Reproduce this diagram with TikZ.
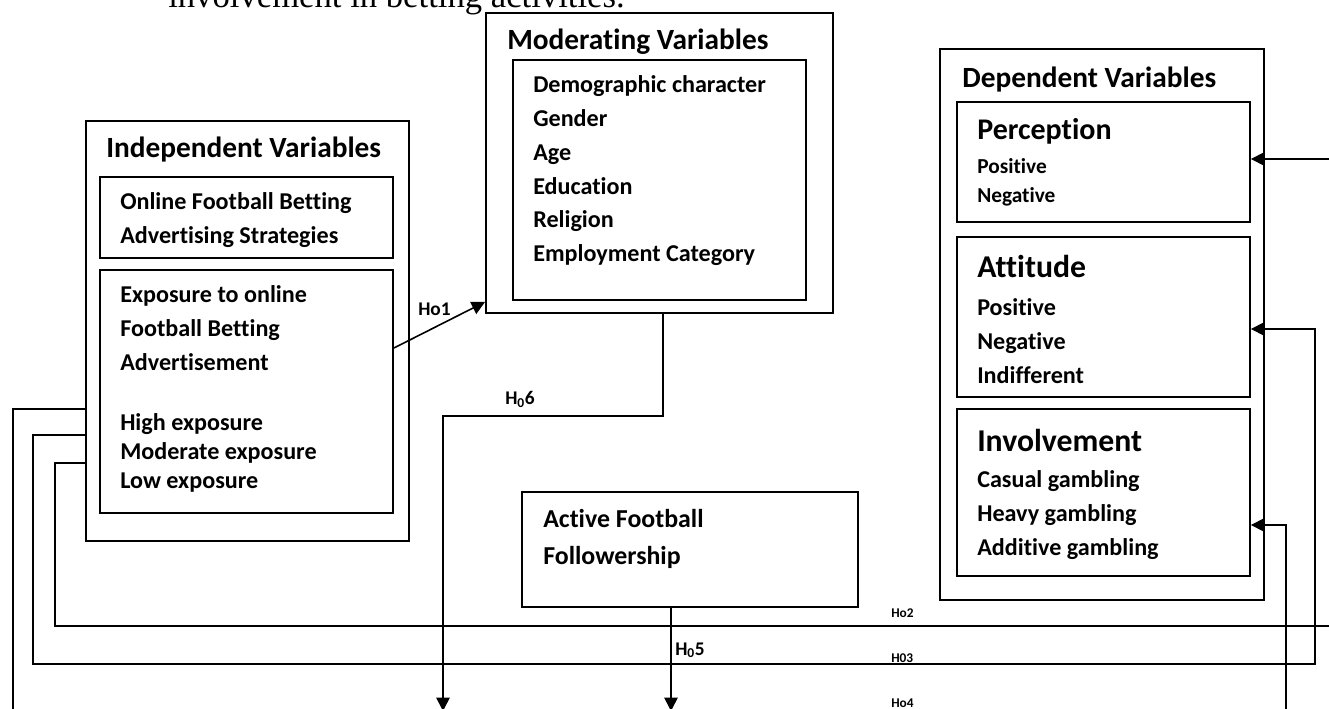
\documentclass[tikz,border=0pt]{standalone}
\usepackage{fontspec}
\setmainfont{Carlito}[Ligatures=NoCommon]
\newfontfamily\serif{Liberation Serif}
\usetikzlibrary{fit,arrows.meta}
\newcommand\lines[1]{\begin{tabular}[t]{@{}l@{}}#1\end{tabular}}
\newcommand\fs[2]{\fontsize{#1}{#2}\selectfont\bfseries}

\begin{document}
\begin{tikzpicture}[
  x=0.75pt, y=-0.75pt,
  box/.style={draw, line width=1.4pt, inner sep=0pt},
  txt/.style={anchor=base west, inner sep=0pt},
  title/.style={txt, font=\fs{22pt}{26pt}},
  head/.style={txt, font=\fs{23.8pt}{28pt}},
  item/.style={txt, font=\fs{18.1pt}{25.3pt}},
  tight/.style={txt, font=\fs{18.1pt}{21.75pt}},
  small/.style={txt, font=\fs{16pt}{21.75pt}},
  hyp/.style={txt, font=\fs{14.5pt}{17pt}},
  tag/.style={txt, font=\fs{10pt}{12pt}},
  link/.style={line width=1.2pt},
  arr/.style={link, -{Triangle[length=10pt,width=10pt]}}
]
\useasboundingbox (0,0) rectangle (1329,709);
\clip (0,0) rectangle (1329,709);

\node[txt, font=\serif\fontsize{26pt}{30pt}\selectfont] (intro) at (168,8) {involvement in betting activities.};

\node[box, fit={(86,121) (409,541)}] (indep) {};
\node[box, fit={(100,177) (393,258)}] (strat) {};
\node[box, fit={(100,270) (393,513)}] (expo) {};
\node[box, fit={(486,13) (833,313)}] (moder) {};
\node[box, fit={(513,60) (806,300)}] (demo) {};
\node[box, fit={(940,49) (1264,600)}] (depend) {};
\node[box, fit={(957,102) (1250,222)}] (percep) {};
\node[box, fit={(957,237) (1250,397)}] (attit) {};
\node[box, fit={(957,409) (1250,576)}] (involv) {};
\node[box, fit={(522,492) (858,607)}] (active) {};

\node[title] (indep-t) at (106,158) {Independent Variables};
\node[item] (strat-t) at (120,210) {\lines{Online Football Betting\\Advertising Strategies}};
\node[item] (expo-t) at (120,303) {\lines{Exposure to online\\Football Betting\\Advertisement}};
\node[tight] (level-t) at (120,431) {\lines{High exposure\\Moderate exposure\\Low exposure}};
\node[title] (moder-t) at (507,50) {Moderating Variables};
\node[item] (demo-t) at (533,93) {\lines{Demographic character\\Gender\\Age\\Education\\Religion\\Employment Category}};
\node[title] (depend-t) at (962,88) {Dependent Variables};
\node[head, font=\fs{22.5pt}{26pt}] (percep-t) at (977,140) {Perception};
\node[small] (percep-i) at (977,174) {\lines{Positive\\Negative}};
\node[head] (attit-t) at (977,278) {Attitude};
\node[item] (attit-i) at (977,316) {\lines{Positive\\Negative\\Indifferent}};
\node[head] (involv-t) at (977,451) {Involvement};
\node[item] (involv-i) at (977,488) {\lines{Casual gambling\\Heavy gambling\\Additive gambling}};
\node[item, font=\fs{19.4pt}{28.3pt}] (active-t) at (543,527) {\lines{Active Football\\Followership}};

\coordinate (s1) at (0,348);
\coordinate (t6) at (663,416);
\coordinate (e6) at (443,711);
\coordinate (e5) at (671,711);
\draw[arr] (expo.east |- s1) -- ([yshift=9pt]moder.south west);
\draw[arr] (moder.south -| t6) -- (t6) -| (e6);
\draw[arr] (active.south -| e5) -- (e5);

\coordinate (y2) at (0,463); \coordinate (l2) at (55,626); \coordinate (e2) at (1345,159);
\coordinate (y3) at (0,435); \coordinate (l3) at (33,664); \coordinate (e3) at (1315,329);
\coordinate (y4) at (0,409); \coordinate (l4) at (13,725); \coordinate (e4) at (1286,525);
\draw[arr] (indep.west |- y2) -| (l2) -| (e2) -- (percep.east |- e2);
\draw[arr] (indep.west |- y3) -| (l3) -| (e3) -- (attit.east |- e3);
\draw[arr] (indep.west |- y4) -| (l4) -| (e4) -- (involv.east |- e4);

\node[hyp] (h1) at (418,316) {Ho1};
\node[hyp] (h6) at (505,405) {H\textsubscript{0}6};
\node[hyp] (h5) at (675,655) {H\textsubscript{0}5};
\node[tag] (h2) at (891,617) {Ho2};
\node[tag] (h3) at (891,662) {H03};
\node[tag] (h4) at (891,707) {Ho4};
\end{tikzpicture}
\end{document}
